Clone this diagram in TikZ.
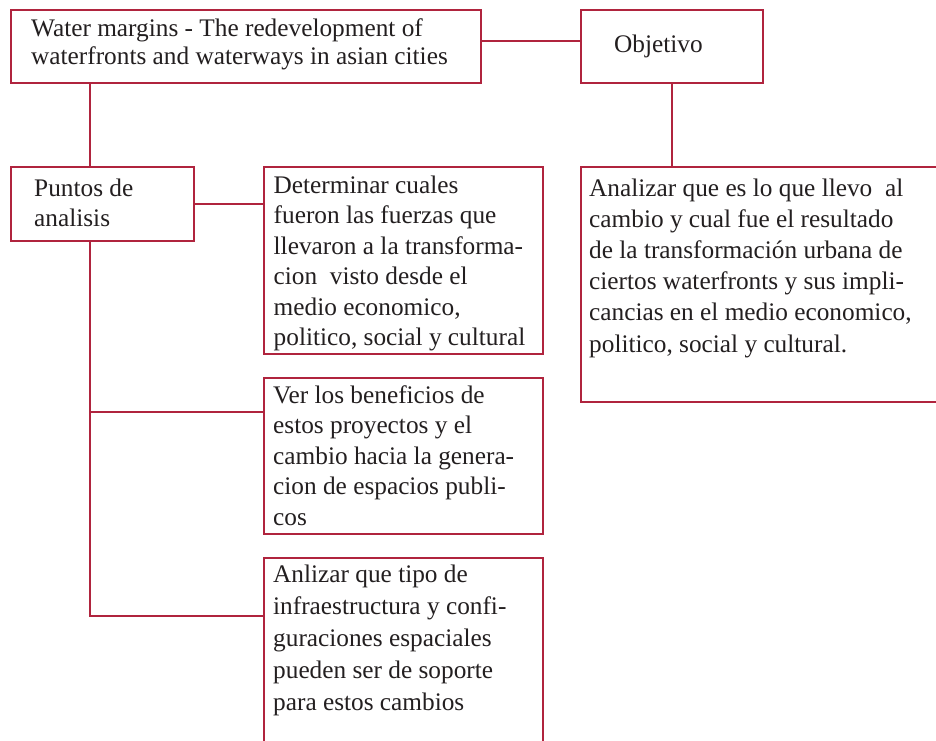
\documentclass[tikz,border=0pt]{standalone}
\usepackage{fontspec}
\setmainfont{Liberation Serif}
\definecolor{frame}{RGB}{176,36,62}
\definecolor{ink}{RGB}{35,31,32}
\newcommand\boxtext[2]{\begin{minipage}[t]{600pt}\fontsize{25.3}{#1}\selectfont\raggedright #2\end{minipage}}
\begin{document}
\begin{tikzpicture}[x=1pt,y=-1pt,
  box/.style={draw=frame, line width=2pt, rectangle, inner sep=0pt, anchor=north west},
  conn/.style={draw=frame, line width=2pt},
  txt/.style={anchor=base west, inner sep=0pt, text=ink}]
\clip (0,0) rectangle (936,740);
\fill[white] (0,0) rectangle (936,740);
% boxes
\node[box, minimum width=470pt, minimum height=73pt] (top) at (10,9) {};
\node[box, minimum width=182pt, minimum height=73pt] (obj) at (580,9) {};
\node[box, minimum width=183pt, minimum height=74pt] (puntos) at (10,166) {};
\node[box, minimum width=279pt, minimum height=187pt] (det) at (263,166) {};
\node[box, minimum width=370pt, minimum height=235pt] (ana) at (580,166) {};
\node[box, minimum width=279pt, minimum height=156pt] (ver) at (263,377) {};
\node[box, minimum width=279pt, minimum height=220pt] (anl) at (263,557) {};
% texts
\node[txt] (toptext) at (31,36) {\boxtext{28pt}{Water margins - The redevelopment of\\waterfronts and waterways in asian cities}};
\node[txt] (objtext) at (614,52) {\boxtext{30pt}{Objetivo}};
\node[txt] (pttext) at (34,196) {\boxtext{30pt}{Puntos de\\analisis}};
\node[txt] (dettext) at (273.5,193.5) {\boxtext{30.4pt}{Determinar cuales\\fueron las fuerzas que\\llevaron a la transforma-\\cion\ \ visto desde el\\medio economico,\\politico, social y cultural}};
\node[txt] (anatext) at (589,196) {\boxtext{31.2pt}{Analizar que es lo que llevo\ \ al\\cambio y cual fue el resultado\\de la transformación urbana de\\ciertos waterfronts y sus impli-\\cancias en el medio economico,\\politico, social y cultural.}};
\node[txt] (vertext) at (273,403) {\boxtext{30.5pt}{Ver los beneficios de\\estos proyectos y el\\cambio hacia la genera-\\cion de espacios publi-\\cos}};
\node[txt] (anltext) at (273,582) {\boxtext{32pt}{Anlizar que tipo de\\infraestructura y confi-\\guraciones espaciales\\pueden ser de soporte\\para estos cambios}};
% connectors
\coordinate (verjoin) at (90,412);
\coordinate (trunkend) at (90,616);
\draw[conn] (top.east |- 0,41) -- (obj.west |- 0,41);
\draw[conn] (top.south -| trunkend) -- (puntos.north -| trunkend);
\draw[conn] (puntos.east) -- (det.west |- puntos.east);
\draw[conn] (puntos.south -| trunkend) -- (trunkend) -- (anl.west |- trunkend);
\draw[conn] (verjoin) -- (ver.west |- verjoin);
\draw[conn] (obj.south) -- (obj.south |- ana.north);
\end{tikzpicture}
\end{document}
